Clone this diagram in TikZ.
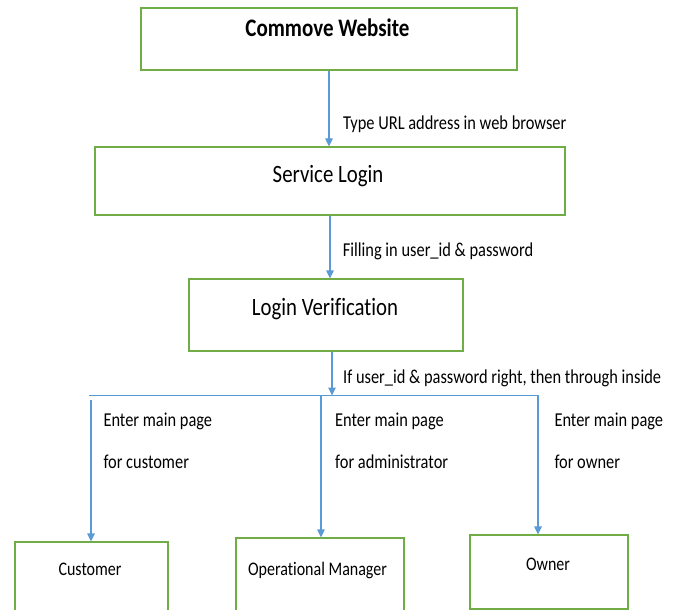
\documentclass[tikz,border=0pt]{standalone}
\usepackage{fontspec}
\setmainfont[Ligatures=NoCommon]{Carlito}
\usepackage{graphicx}
\usetikzlibrary{arrows.meta}
\definecolor{boxgreen}{HTML}{70AD47}
\definecolor{flowblue}{HTML}{5B9BD5}
% Calibri-like text, drawn slightly taller than its natural shape
\newcommand{\tallsq}[1]{\scalebox{1}[1.2]{#1}}

\begin{document}
\begin{tikzpicture}[x=1pt,y=-1pt,
  box/.style={draw=boxgreen, line width=1.2pt, fill=white, inner sep=0pt},
  boxtxt/.style={anchor=base, inner sep=0pt, font=\fontsize{20.8}{24}\selectfont},
  titletxt/.style={anchor=base, inner sep=0pt, font=\fontsize{21}{24}\selectfont\bfseries},
  subtxt/.style={anchor=base, inner sep=0pt, font=\fontsize{16}{19}\selectfont},
  lbl/.style={anchor=base west, inner sep=0pt, font=\fontsize{16.4}{20}\selectfont},
  flow/.style={draw=flowblue, line width=1.2pt, -{Triangle[length=8pt,width=7.5pt]}}]

\fill[white] (0,0) rectangle (681,610);
\useasboundingbox (0,0) rectangle (681,610);
\clip (0,0) rectangle (681,610);

% process boxes
\node[box, minimum width=376pt, minimum height=62pt] (web)  at (329,39)   {};
\node[box, minimum width=470pt, minimum height=68pt] (svc)  at (330,181)  {};
\node[box, minimum width=274pt, minimum height=72pt] (lv)   at (326,315)  {};
\node[box, minimum width=153pt, minimum height=72pt] (cust) at (91.5,578) {};
\node[box, minimum width=168pt, minimum height=76pt] (opm)  at (320,576)  {};
\node[box, minimum width=158pt, minimum height=74pt] (own)  at (549,572)  {};

% box captions
\node[titletxt] (webT)  at (327.5,36.7) {\tallsq{Commove Website}};
\node[boxtxt]   (svcT)  at (328,182.7)  {\tallsq{Service Login}};
\node[boxtxt]   (lvT)   at (325,315)    {\tallsq{Login Verification}};
\node[subtxt]   (custT) at (90,575)     {\tallsq{Customer}};
\node[subtxt]   (opmT)  at (317.5,575)  {\tallsq{Operational Manager}};
\node[subtxt]   (ownT)  at (548,570)    {\tallsq{Owner}};

% branching rail
\coordinate (split) at (332,395.5);
\coordinate (railL) at (89,395.5);
\coordinate (railR) at (538,395.5);
\coordinate (brC)   at (91,400);
\coordinate (brM)   at (321,395.5);

% connectors
\draw[flow] (web.south) -- (web.south |- svc.north);
\draw[flow] (svc.south) -- (svc.south |- lv.north);
\draw[flow] (lv.south -| split) -- (split);
\draw[draw=flowblue, line width=1.2pt] (railL) -- (split);
\draw[flow] (split) -- (railR) -- (railR |- own.north);
\draw[flow] (brC) -- (brC |- cust.north);
\draw[flow] (brM) -- (brM |- opm.north);

% connector labels
\node[lbl] (l1) at (343,130)     {\tallsq{Type URL address in web browser}};
\node[lbl] (l2) at (342.7,256.7) {\tallsq{Filling in user\_id \& password}};
\node[lbl] (l3) at (343,383.7)   {\tallsq{If user\_id \& password right, then through inside}};
\node[lbl] (l4) at (103.3,426.7) {\tallsq{Enter main page}};
\node[lbl] (l5) at (103.3,468.3) {\tallsq{for customer}};
\node[lbl] (l6) at (335,426.7)   {\tallsq{Enter main page}};
\node[lbl] (l7) at (335,468.3)   {\tallsq{for administrator}};
\node[lbl] (l8) at (554.3,426.7) {\tallsq{Enter main page}};
\node[lbl] (l9) at (554.3,468.3) {\tallsq{for owner}};
\end{tikzpicture}
\end{document}
